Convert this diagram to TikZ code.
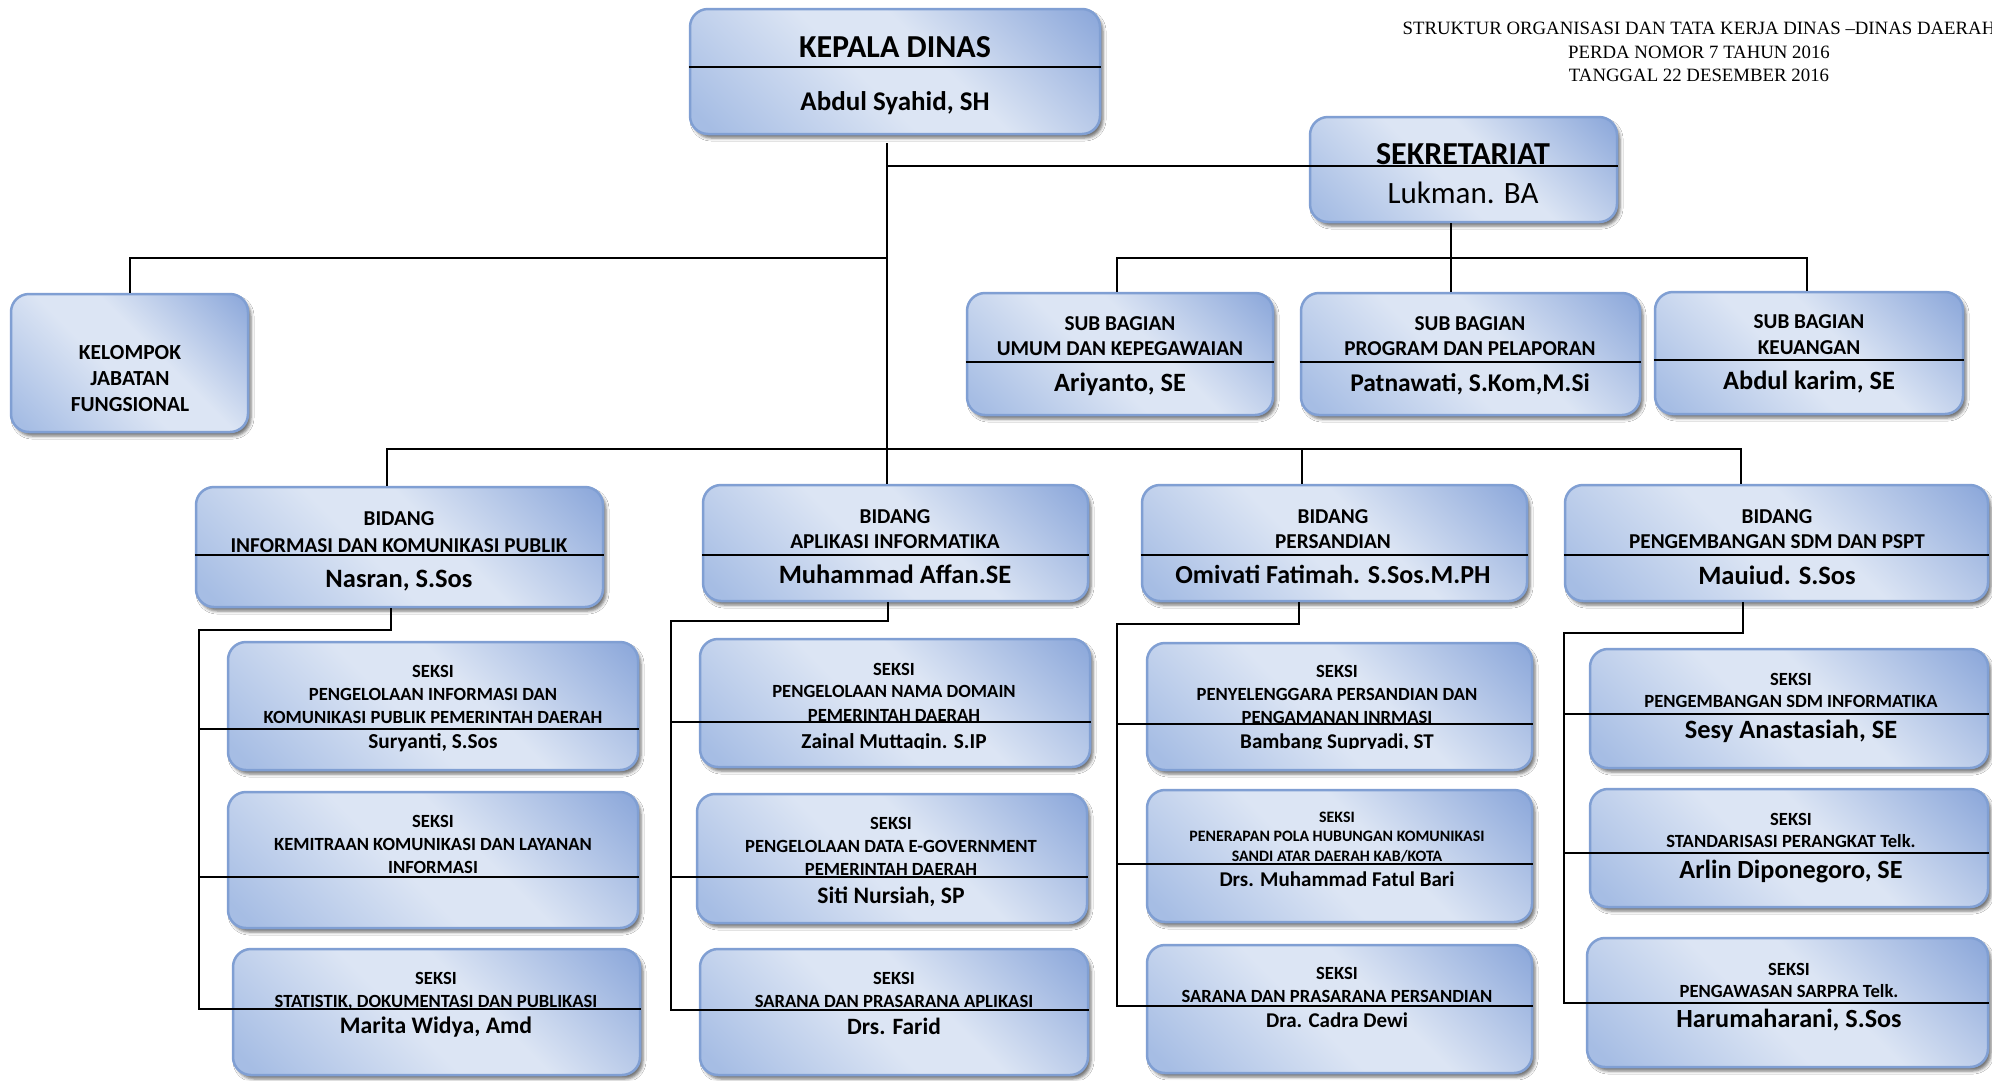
\documentclass[tikz,border=0pt]{standalone}
\usepackage{fontspec}
\setmainfont{Carlito}
\newfontfamily\titlefont{Liberation Serif}
\usetikzlibrary{shadows.blur,calc}
\definecolor{bdark}{HTML}{8BA7DA}
\definecolor{bmid}{HTML}{A6BDE4}
\definecolor{blight}{HTML}{DCE5F4}
\definecolor{bborder}{HTML}{809FD3}
\pgfdeclarehorizontalshading{wordblue}{100bp}{color(0bp)=(bmid); color(18bp)=(bmid); color(45bp)=(blight); color(57bp)=(blight); color(85bp)=(bdark); color(100bp)=(bdark)}
\tikzset{
  orgbox/.style={draw=bborder, line width=2.5pt, rounded corners=18pt, shade, shading=wordblue, shading angle=45,
    blur shadow={shadow xshift=3pt, shadow yshift=-4pt, shadow blur radius=3pt, shadow opacity=55}, inner sep=0pt},
  divline/.style={line width=1.3pt, black},
  conn/.style={line width=2pt, black},
  tb/.style={font=\fontsize{#1}{#1}\selectfont\bfseries, anchor=base, inner sep=0pt},
  tr/.style={font=\fontsize{#1}{#1}\selectfont, anchor=base, inner sep=0pt},
  ttl/.style={font=\titlefont\fontsize{18.8}{21}\selectfont, anchor=base, inner sep=0pt}
}
\newcommand\orgnode[5]{\node[orgbox, minimum width={#4-#2}, minimum height={#5-#3}] (#1) at ({(#2+#4)/2},{(#3+#5)/2}) {};}
\newcommand\dividerline[2]{\coordinate (#1dl) at (#1.west |- 0,#2); \coordinate (#1dr) at (#1.east |- 0,#2); \draw[divline] (#1dl) -- (#1dr);}
\newcommand\txtline[5]{\node[#4] (#1) at (#2,#3) {#5};}
\begin{document}
\begin{tikzpicture}[x=1pt,y=-1pt]
\fill[white] (0,0) rectangle (1992,1080);
\useasboundingbox (0,0) rectangle (1992,1080);

% title
\txtline{h1}{1699}{34}{ttl}{STRUKTUR ORGANISASI DAN TATA KERJA DINAS –DINAS DAERAH}
\txtline{h2}{1699}{58}{ttl}{PERDA NOMOR 7 TAHUN 2016}
\txtline{h3}{1699}{81}{ttl}{TANGGAL 22 DESEMBER 2016}

% boxes
\orgnode{kd}{690}{9}{1100}{134}
\orgnode{sek}{1310}{117}{1617}{222}
\orgnode{kjf}{11}{294}{248}{432}
\orgnode{sb1}{967}{293}{1273}{415}
\orgnode{sb2}{1301}{293}{1640}{415}
\orgnode{sb3}{1655}{292}{1963}{414}
\orgnode{b1}{196}{487}{603}{607}
\orgnode{b2}{703}{485}{1088}{601}
\orgnode{b3}{1142}{485}{1527}{601}
\orgnode{b4}{1565}{485}{1988}{601}
\orgnode{s11}{228}{642}{638}{770}
\orgnode{s12}{228}{792}{638}{928}
\orgnode{s13}{233}{949}{640}{1075}
\orgnode{s21}{700}{639}{1090}{767}
\orgnode{s22}{697}{794}{1087}{923}
\orgnode{s23}{700}{949}{1088}{1075}
\orgnode{s31}{1147}{643}{1532}{770}
\orgnode{s32}{1147}{790}{1532}{922}
\orgnode{s33}{1147}{945}{1532}{1073}
\orgnode{s41}{1590}{649}{1988}{768}
\orgnode{s42}{1590}{789}{1988}{907}
\orgnode{s43}{1587}{938}{1988}{1067}

% dividers
\dividerline{kd}{67}
\dividerline{sek}{166}
\dividerline{sb1}{362}
\dividerline{sb2}{362}
\dividerline{sb3}{360}
\dividerline{b1}{555}
\dividerline{b2}{555}
\dividerline{b3}{555}
\dividerline{b4}{555}
\dividerline{s11}{729}
\dividerline{s12}{877}
\dividerline{s13}{1009}
\dividerline{s21}{722}
\dividerline{s22}{877}
\dividerline{s23}{1010}
\dividerline{s31}{724}
\dividerline{s32}{864}
\dividerline{s33}{1006}
\dividerline{s41}{714}
\dividerline{s42}{853}
\dividerline{s43}{1003}

% connectors
\coordinate (tr0) at (887,143);
\coordinate (trS) at (887,166);
\coordinate (trK) at (887,258);
\draw[conn] (tr0) -- (tr0 |- b2.north);
\draw[conn] (trS) -- (sekdl);
\draw[conn] (trK) -| (kjf.north);
\coordinate (bb1) at (387,449);
\coordinate (bb3) at (1302,449);
\coordinate (bb4) at (1741,449);
\draw[conn] (bb1 |- b1.north) -- (bb1) -- (bb4) -- (bb4 |- b4.north);
\draw[conn] (bb3) -- (bb3 |- b3.north);
\coordinate (sbA) at (1117,258);
\coordinate (sbB) at (1451,258);
\coordinate (sbC) at (1807,258);
\draw[conn] (sbA |- sb1.north) -- (sbA) -- (sbC) -- (sbC |- sb3.north);
\draw[conn] (sbB |- sek.south) -- (sbB |- sb2.north);
% column 1
\coordinate (c1a) at (391,630);
\coordinate (c1b) at (199,630);
\draw[conn] (c1a |- b1.south) -- (c1a) -- (c1b) -- (c1b |- s13dl) -- (s13dl);
\draw[conn] (c1b |- s11dl) -- (s11dl);
\draw[conn] (c1b |- s12dl) -- (s12dl);
% column 2
\coordinate (c2a) at (888,621);
\coordinate (c2b) at (671,621);
\draw[conn] (c2a |- b2.south) -- (c2a) -- (c2b) -- (c2b |- s23dl) -- (s23dl);
\draw[conn] (c2b |- s21dl) -- (s21dl);
\draw[conn] (c2b |- s22dl) -- (s22dl);
% column 3
\coordinate (c3a) at (1299,624);
\coordinate (c3b) at (1117,624);
\draw[conn] (c3a |- b3.south) -- (c3a) -- (c3b) -- (c3b |- s33dl) -- (s33dl);
\draw[conn] (c3b |- s31dl) -- (s31dl);
\draw[conn] (c3b |- s32dl) -- (s32dl);
% column 4
\coordinate (c4a) at (1743,633);
\coordinate (c4b) at (1564,633);
\draw[conn] (c4a |- b4.south) -- (c4a) -- (c4b) -- (c4b |- s43dl) -- (s43dl);
\draw[conn] (c4b |- s41dl) -- (s41dl);
\draw[conn] (c4b |- s42dl) -- (s42dl);

% texts
\txtline{kd1}{895}{57}{tb=32}{KEPALA DINAS}
\txtline{kd2}{895}{110}{tb=27}{Abdul Syahid, SH}
\txtline{sek1}{1463}{164}{tb=32}{SEKRETARIAT}
\txtline{sek2}{1463}{203}{tr=31}{Lukman. BA}
\txtline{kjf1}{130}{359}{tb=21.5}{KELOMPOK}
\txtline{kjf2}{130}{385}{tb=21.5}{JABATAN}
\txtline{kjf3}{130}{411}{tb=21.5}{FUNGSIONAL}

\txtline{sb1a}{1120}{330}{tb=21.2}{SUB BAGIAN}
\txtline{sb1b}{1120}{355}{tb=21.2}{UMUM DAN KEPEGAWAIAN}
\txtline{sb1c}{1120}{391}{tb=26.4}{Ariyanto, SE}
\txtline{sb2a}{1470}{330}{tb=21.2}{SUB BAGIAN}
\txtline{sb2b}{1470}{355}{tb=21.2}{PROGRAM DAN PELAPORAN}
\txtline{sb2c}{1470}{391}{tb=25.5}{Patnawati, S.Kom,M.Si}
\txtline{sb3a}{1809}{328}{tb=21.2}{SUB BAGIAN}
\txtline{sb3b}{1809}{354}{tb=21.2}{KEUANGAN}
\txtline{sb3c}{1809}{389}{tb=26.4}{Abdul karim, SE}

\txtline{b1a}{399}{525}{tb=21.2}{BIDANG}
\txtline{b1b}{399}{552}{tb=21.2}{INFORMASI DAN KOMUNIKASI PUBLIK}
\txtline{b1c}{399}{587}{tb=26.5}{Nasran, S.Sos}
\txtline{b2a}{895}{523}{tb=21.2}{BIDANG}
\txtline{b2b}{895}{548}{tb=21.2}{APLIKASI INFORMATIKA}
\txtline{b2c}{895}{583}{tb=26.5}{Muhammad Affan.SE}
\txtline{b3a}{1333}{523}{tb=21.2}{BIDANG}
\txtline{b3b}{1333}{548}{tb=21.2}{PERSANDIAN}
\txtline{b3c}{1333}{583}{tb=26}{Omivati Fatimah. S.Sos.M.PH}
\txtline{b4a}{1777}{523}{tb=21.2}{BIDANG}
\txtline{b4b}{1777}{548}{tb=21.2}{PENGEMBANGAN SDM DAN PSPT}
\txtline{b4c}{1777}{584}{tb=26.5}{Mauiud. S.Sos}

\txtline{s11a}{433}{677}{tb=18.6}{SEKSI}
\txtline{s11b}{433}{700}{tb=18.6}{PENGELOLAAN INFORMASI DAN}
\txtline{s11c}{433}{723}{tb=18.6}{KOMUNIKASI PUBLIK PEMERINTAH DAERAH}
\txtline{s11d}{433}{748}{tb=21.3}{Suryanti, S.Sos}
\txtline{s12a}{433}{827}{tb=18.6}{SEKSI}
\txtline{s12b}{433}{850}{tb=18.6}{KEMITRAAN KOMUNIKASI DAN LAYANAN}
\txtline{s12c}{433}{873}{tb=18.6}{INFORMASI}
\txtline{s13a}{436}{984}{tb=18.6}{SEKSI}
\txtline{s13b}{436}{1007}{tb=18.6}{STATISTIK, DOKUMENTASI DAN PUBLIKASI}
\txtline{s13c}{436}{1033}{tb=23.7}{Marita Widya, Amd}

\txtline{s21a}{894}{675}{tb=18.6}{SEKSI}
\txtline{s21b}{894}{697}{tb=18.6}{PENGELOLAAN NAMA DOMAIN}
\txtline{s21c}{894}{721}{tb=18.6}{PEMERINTAH DAERAH}
\begin{scope}
\clip (700,725) rectangle (1090,748.5);
\txtline{s21d}{894}{748}{tb=21.3}{Zainal Muttaqin. S.IP}
\end{scope}
\txtline{s22a}{891}{829}{tb=18.6}{SEKSI}
\txtline{s22b}{891}{852}{tb=18.6}{PENGELOLAAN DATA E-GOVERNMENT}
\txtline{s22c}{891}{875}{tb=18.6}{PEMERINTAH DAERAH}
\txtline{s22d}{891}{903}{tb=23.6}{Siti Nursiah, SP}
\txtline{s23a}{894}{984}{tb=18.6}{SEKSI}
\txtline{s23b}{894}{1007}{tb=18.6}{SARANA DAN PRASARANA APLIKASI}
\txtline{s23c}{894}{1034}{tb=23.4}{Drs. Farid}

\txtline{s31a}{1337}{677}{tb=18.6}{SEKSI}
\txtline{s31b}{1337}{700}{tb=18.6}{PENYELENGGARA PERSANDIAN DAN}
\txtline{s31c}{1337}{723}{tb=18.6}{PENGAMANAN INRMASI}
\begin{scope}
\clip (1147,727) rectangle (1532,748.5);
\txtline{s31d}{1337}{748}{tb=21}{Bambang Supryadi, ST}
\end{scope}
\txtline{s32a}{1337}{822}{tb=15.9}{SEKSI}
\txtline{s32b}{1337}{841}{tb=15.9}{PENERAPAN POLA HUBUNGAN KOMUNIKASI}
\txtline{s32c}{1337}{861}{tb=15.9}{SANDI ATAR DAERAH KAB/KOTA}
\txtline{s32d}{1337}{886}{tb=21}{Drs. Muhammad Fatul Bari}
\txtline{s33a}{1337}{979}{tb=18.6}{SEKSI}
\txtline{s33b}{1337}{1002}{tb=18.6}{SARANA DAN PRASARANA PERSANDIAN}
\txtline{s33c}{1337}{1027}{tb=21}{Dra. Cadra Dewi}

\txtline{s41a}{1791}{685}{tb=18.6}{SEKSI}
\txtline{s41b}{1791}{707}{tb=18.6}{PENGEMBANGAN SDM INFORMATIKA}
\txtline{s41c}{1791}{738}{tb=26.4}{Sesy Anastasiah, SE}
\txtline{s42a}{1791}{825}{tb=18.6}{SEKSI}
\txtline{s42b}{1791}{847}{tb=18.6}{STANDARISASI PERANGKAT Telk.}
\txtline{s42c}{1791}{878}{tb=26.2}{Arlin Diponegoro, SE}
\txtline{s43a}{1789}{975}{tb=18.6}{SEKSI}
\txtline{s43b}{1789}{997}{tb=18.6}{PENGAWASAN SARPRA Telk.}
\txtline{s43c}{1789}{1027}{tb=26.2}{Harumaharani, S.Sos}
\end{tikzpicture}
\end{document}
